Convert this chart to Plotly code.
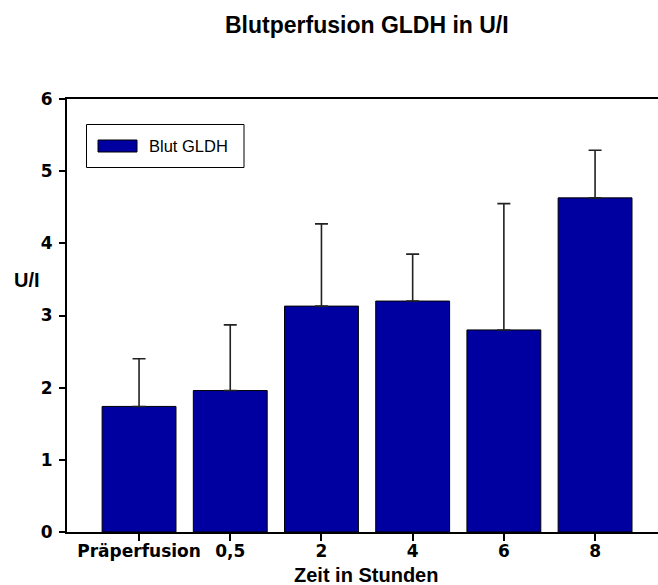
import plotly.graph_objects as go

# Blood perfusion GLDH measurements (U/l), mean and upper SD
categories = ["Präperfusion", "0,5", "2", "4", "6", "8"]
means = [1.74, 1.96, 3.13, 3.20, 2.80, 4.63]
sd_upper = [0.66, 0.91, 1.14, 0.65, 1.75, 0.66]
y_ticks = [0, 1, 2, 3, 4, 5, 6]

series_name = "Blut GLDH"
bar_color = "#0000A0"
font_family = "Liberation Sans, Arial, sans-serif"
tick_family = "DejaVu Sans, sans-serif"

W, H = 658, 585
L, R, T, B = 67, 0, 99, 53
pw, ph = W - L - R, H - T - B


def px(x):
    return (x - L) / pw


def py(y):
    return (H - B - y) / ph


fig = go.Figure()
fig.add_trace(go.Bar(
    x=list(range(len(categories))),
    y=means,
    width=[0.81] * len(categories),
    marker=dict(color=bar_color, line=dict(color="black", width=1)),
    error_y=dict(type="data", array=sd_upper, symmetric=False,
                 arrayminus=[0] * len(categories),
                 color="#222222", thickness=1.6, width=6.5),
    name=series_name,
    showlegend=False,
))

fig.update_layout(
    width=W, height=H,
    margin=dict(l=L, r=R, t=T, b=B),
    paper_bgcolor="white", plot_bgcolor="white",
    font=dict(family=font_family, color="black"),
    xaxis=dict(
        range=[-0.79, 5.69],
        tickmode="array",
        tickvals=list(range(len(categories))),
        ticktext=categories,
        ticks="outside", ticklen=7, tickwidth=1.5, tickcolor="black",
        tickfont=dict(family=tick_family, size=17, weight="bold", color="black"),
        ticklabelstandoff=-4,
        showline=True, linecolor="black", linewidth=2, mirror=True,
        showgrid=False, zeroline=False,
    ),
    yaxis=dict(
        range=[0, 6],
        tickmode="array",
        tickvals=y_ticks,
        ticks="outside", ticklen=6, tickwidth=1.5, tickcolor="black",
        tickfont=dict(family=tick_family, size=17, weight="bold", color="black"),
        ticklabelstandoff=3,
        showline=True, linecolor="black", linewidth=2,
        showgrid=False, zeroline=False,
    ),
    annotations=[
        dict(text="Blutperfusion GLDH in U/I", xref="paper", yref="paper",
             x=px(367), y=py(25), xanchor="center", yanchor="middle",
             showarrow=False, font=dict(size=23, weight="bold")),
        dict(text="Zeit in Stunden", xref="paper", yref="paper",
             x=px(366), y=py(575), xanchor="center", yanchor="middle",
             showarrow=False, font=dict(size=20, weight="bold")),
        dict(text="U/I", xref="paper", yref="paper",
             x=px(27), y=py(280), xanchor="center", yanchor="middle",
             showarrow=False, font=dict(size=20, weight="bold")),
        dict(text=series_name, xref="paper", yref="paper",
             x=px(147), y=py(146), xanchor="left", yanchor="middle",
             showarrow=False, font=dict(size=16.5)),
    ],
    shapes=[
        # legend frame
        dict(type="rect", xref="paper", yref="paper",
             x0=px(86.5), x1=px(244), y0=py(124.5), y1=py(167.5),
             line=dict(color="black", width=1), fillcolor="white"),
        # legend swatch
        dict(type="rect", xref="paper", yref="paper",
             x0=px(98), x1=px(137), y0=py(140), y1=py(152),
             line=dict(color="black", width=1), fillcolor=bar_color),
    ],
)

fig.write_html("out.html")
